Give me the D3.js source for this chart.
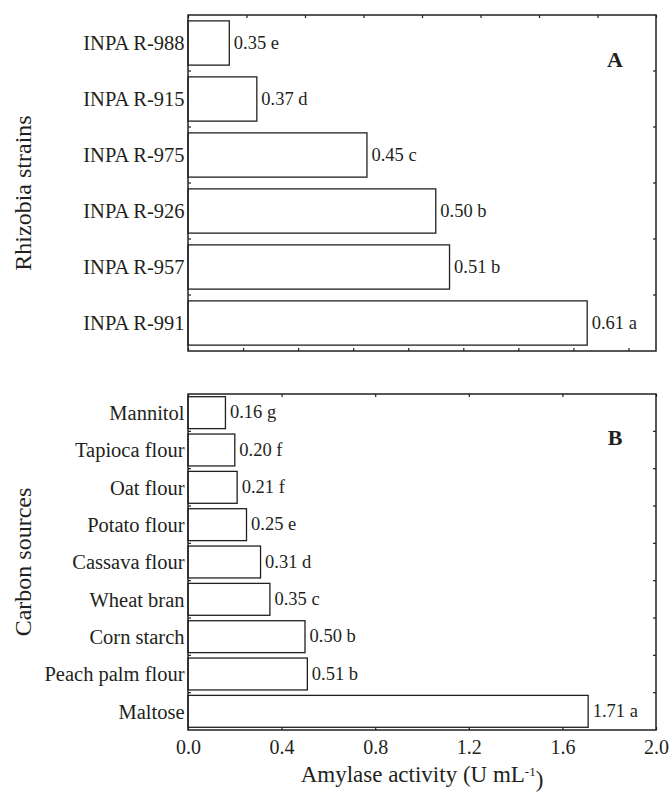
<!DOCTYPE html>
<html>
<head>
<meta charset="utf-8">
<script src="https://cdn.jsdelivr.net/npm/d3@7"></script>
<style>
  body { margin: 0; background: #fff; }
</style>
</head>
<body>
<div id="chart"></div>
<script>
// panel A: rhizobia strains
const strainsA = ["INPA R-988", "INPA R-915", "INPA R-975", "INPA R-926", "INPA R-957", "INPA R-991"];
const activityA = [0.35, 0.37, 0.45, 0.50, 0.51, 0.61];
const lettersA = ["e", "d", "c", "b", "b", "a"];
const ticksA = [0.32, 0.36, 0.40, 0.44, 0.48, 0.52, 0.56, 0.60, 0.64];

// panel B: carbon sources
const sourcesB = ["Mannitol", "Tapioca flour", "Oat flour", "Potato flour", "Cassava flour",
    "Wheat bran", "Corn starch", "Peach palm flour", "Maltose"];
const activityB = [0.16, 0.20, 0.21, 0.25, 0.31, 0.35, 0.50, 0.51, 1.71];
const lettersB = ["g", "f", "f", "e", "d", "c", "b", "b", "a"];
const ticksB = [0.0, 0.4, 0.8, 1.2, 1.6, 2.0];

const width = 671, height = 794;
const left = 188, right = 656;
const ink = "#231f20";
const serif = "'Liberation Serif', 'Times New Roman', Times, 'DejaVu Serif', serif";

const svg = d3.select("#chart")
    .append("svg")
    .attr("width", width)
    .attr("height", height)
    .style("font-family", serif);

function drawPanel(cfg) {
    const data = cfg.names.map((n, i) => ({ name: n, value: cfg.values[i], letter: cfg.letters[i] }));

    const x = d3.scaleLinear()
        .domain(cfg.domain)
        .range([left, right]);

    const y = d3.scaleBand()
        .domain(cfg.names)
        .range([cfg.top, cfg.bottom])
        .paddingInner(cfg.pad)
        .paddingOuter(cfg.pad / 2);

    const g = svg.append("g");

    // bars
    g.selectAll(".bar")
        .data(data)
        .enter()
        .append("rect")
        .attr("class", "bar")
        .attr("x", x(cfg.domain[0]))
        .attr("y", d => y(d.name))
        .attr("width", d => x(d.value) - x(cfg.domain[0]))
        .attr("height", y.bandwidth())
        .attr("fill", "#fff")
        .attr("stroke", ink)
        .attr("stroke-width", 1.3);

    // value + letter labels
    g.selectAll(".label")
        .data(data)
        .enter()
        .append("text")
        .attr("class", "label")
        .attr("x", d => x(d.value) + 4.5)
        .attr("y", d => y(d.name) + y.bandwidth() / 2)
        .attr("dy", "0.3em")
        .style("font-family", serif)
        .style("font-size", "18.5px")
        .style("fill", ink)
        .text(d => `${d.value.toFixed(2)} ${d.letter}`);

    // category names
    g.selectAll(".cat")
        .data(data)
        .enter()
        .append("text")
        .attr("class", "cat")
        .attr("x", left - 3.5)
        .attr("y", d => y(d.name) + y.bandwidth() / 2)
        .attr("dy", "0.35em")
        .attr("text-anchor", "end")
        .style("font-family", serif)
        .style("font-size", "20.5px")
        .style("fill", ink)
        .text(d => d.name);

    // bottom axis, ticks pointing inward
    const bottomAxis = g.append("g")
        .attr("transform", `translate(0,${cfg.bottom})`)
        .call(d3.axisBottom(x)
            .tickValues(cfg.ticks)
            .tickSize(-3)
            .tickPadding(10)
            .tickFormat(cfg.showLabels ? d3.format(".1f") : ""));
    bottomAxis.select(".domain").remove();
    bottomAxis.selectAll("line").attr("stroke", ink).attr("stroke-width", 1.2);
    bottomAxis.selectAll("text")
        .style("font-family", serif)
        .style("font-size", "20px")
        .style("fill", ink);

    // top axis
    const topAxis = g.append("g")
        .attr("transform", `translate(0,${cfg.top})`)
        .call(d3.axisTop(x)
            .tickValues(cfg.topTicks)
            .tickSize(-3)
            .tickFormat(""));
    topAxis.select(".domain").remove();
    topAxis.selectAll("line").attr("stroke", ink).attr("stroke-width", 1.2);

    // ticks between the bars, left and right
    const bounds = cfg.names.slice(1).map(n => y(n) - y.step() * y.paddingInner() / 2);
    g.selectAll(".ytick")
        .data(bounds.flatMap(b => [[left, b, 3], [right, b, -3]]))
        .enter()
        .append("line")
        .attr("x1", d => d[0])
        .attr("x2", d => d[0] + d[2])
        .attr("y1", d => d[1])
        .attr("y2", d => d[1])
        .attr("stroke", ink)
        .attr("stroke-width", 1.2);

    // frame
    g.append("rect")
        .attr("x", left)
        .attr("y", cfg.top)
        .attr("width", right - left)
        .attr("height", cfg.bottom - cfg.top)
        .attr("fill", "none")
        .attr("stroke", ink)
        .attr("stroke-width", 1.5);

    // panel letter
    g.append("text")
        .attr("x", 615)
        .attr("y", cfg.top + cfg.letterY)
        .attr("text-anchor", "middle")
        .style("font-family", serif)
        .style("font-size", "22px")
        .style("font-weight", "bold")
        .style("fill", ink)
        .text(cfg.panel);

    // y title
    g.append("text")
        .attr("transform", `translate(31,${cfg.titleY}) rotate(-90)`)
        .attr("text-anchor", "middle")
        .style("font-family", serif)
        .style("font-size", "24px")
        .style("fill", ink)
        .text(cfg.title);

    return x;
}

drawPanel({
    names: strainsA, values: activityA, letters: lettersA,
    domain: [0.32, 0.66], ticks: ticksA,
    topTicks: d3.range(9).map(i => 0.32 + i * 0.34 / 8),
    top: 15, bottom: 351, pad: 0.21,
    showLabels: false, panel: "A", letterY: 52,
    title: "Rhizobia strains", titleY: 193
});

drawPanel({
    names: sourcesB, values: activityB, letters: lettersB,
    domain: [0, 2.0], ticks: ticksB, topTicks: ticksB,
    top: 394, bottom: 730, pad: 0.145,
    showLabels: true, panel: "B", letterY: 51,
    title: "Carbon sources", titleY: 562
});

// x axis title with superscript
const xTitle = svg.append("text")
    .attr("x", (left + right) / 2)
    .attr("y", 782)
    .attr("text-anchor", "middle")
    .style("font-family", serif)
    .style("font-size", "23px")
    .style("fill", ink);
xTitle.append("tspan").text("Amylase activity (U mL");
xTitle.append("tspan").attr("dy", "-0.45em").style("font-size", "13px").text("-1");
xTitle.append("tspan").attr("dy", "0.45em").text(")");
</script>
</body>
</html>
